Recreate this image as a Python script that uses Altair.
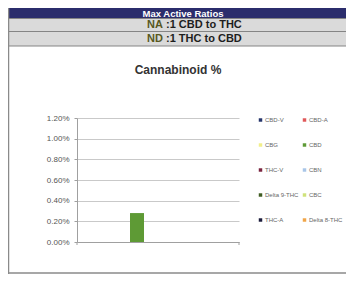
import altair as alt
import pandas as pd

# ---- data ----
series = ["CBD-V", "CBD-A", "CBG", "CBD", "THC-V", "CBN",
          "Delta 9-THC", "CBC", "THC-A", "Delta 8-THC"]
values = [0, 0, 0, 0.0028, 0, 0, 0, 0, 0, 0]
colors = ["#26356b", "#e0585a", "#f2ef8a", "#5e9a35", "#7a2440",
          "#a9c6e8", "#3f5c22", "#cfe27a", "#1c1c3c", "#f0a548"]
y_ticks = [0, 0.002, 0.004, 0.006, 0.008, 0.010, 0.012]
header_title = ["Max Active Ratios"]
ratio_codes = ["NA", "ND"]
ratio_texts = [":1 CBD to THC", ":1 THC to CBD"]
chart_title = ["Cannabinoid %"]

FONT = "Liberation Sans"
df = pd.DataFrame({"series": series, "value": values})

bars = alt.Chart(df).mark_bar().encode(
    x=alt.X("series:N", sort=series,
            scale=alt.Scale(paddingInner=0, paddingOuter=0.79),
            axis=alt.Axis(labels=False, ticks=False, title=None,
                          domainColor="#a0a0a0", grid=False)),
    y=alt.Y("value:Q", scale=alt.Scale(domain=[0, 0.012]),
            axis=alt.Axis(values=y_ticks, format=".2%", title=None,
                          grid=True, gridColor="#c9c9c9", domainColor="#a0a0a0",
                          tickColor="#a0a0a0", tickSize=3, labelPadding=5,
                          labelFontSize=8, labelColor="#555555", labelFont=FONT)),
    color=alt.Color("series:N", sort=series,
                    scale=alt.Scale(domain=series, range=colors),
                    legend=alt.Legend(title=None, orient="none", legendX=180.5, legendY=-1,
                                      direction="horizontal",
                                      columns=2, columnPadding=3, rowPadding=19,
                                      symbolType="square", symbolSize=12,
                                      symbolStrokeWidth=0, labelFontSize=6,
                                      labelColor="#666666", labelOffset=1.5,
                                      labelFont=FONT, padding=0)),
)

one = pd.DataFrame({"k": [0]})

def rect(x1, x2, y1, y2, fill, stroke=None):
    kw = {"fill": fill}
    if stroke:
        kw.update(stroke=stroke, strokeWidth=1)
    return alt.Chart(one).mark_rect(**kw).encode(
        x=alt.value(x1), x2=alt.value(x2), y=alt.value(y1), y2=alt.value(y2))

def rule(x1, x2, y1, y2, color, w=1):
    return alt.Chart(one).mark_rule(color=color, strokeWidth=w).encode(
        x=alt.value(x1), x2=alt.value(x2), y=alt.value(y1), y2=alt.value(y2))

# plot origin is at page (77, 118); canvas spans page x 8..346, y 8..274
navy = rect(-69, 272, -110, -99.5, "#2b2d6c")
row1 = rect(-69, 272, -99.5, -86.5, "#dadada", "#858585")
row2 = rect(-69, 272, -86.5, -72, "#dadada", "#858585")
left_border = rule(-68.5, -68.5, -110, 156, "#8a8a8a", 1.5)
bottom_border = rule(-69, 272, 155, 155, "#8a8a8a", 1.5)
end_tick_r = rule(162, 162, 124, 127, "#a0a0a0")
end_tick_l = rule(0, 0, 124, 127, "#a0a0a0")

t_header = alt.Chart(pd.DataFrame({"t": header_title})).mark_text(
    font=FONT, fontSize=9.5, fontWeight="bold", color="white",
    align="center", baseline="middle").encode(
    text="t:N", x=alt.value(106), y=alt.value(-104.2))

codes_df = pd.DataFrame({"t": ratio_codes, "yy": [-92.8, -79]})
texts_df = pd.DataFrame({"t": ratio_texts, "yy": [-92.8, -79]})

t_codes = alt.Chart(codes_df).mark_text(
    font=FONT, fontSize=11, fontWeight="bold", color="#58581e",
    align="left", baseline="middle").encode(
    text="t:N", x=alt.value(70),
    y=alt.Y("yy:Q", scale=None))

t_texts = alt.Chart(texts_df).mark_text(
    font=FONT, fontSize=11, fontWeight="bold", color="#1e1e1e",
    align="left", baseline="middle").encode(
    text="t:N", x=alt.value(89),
    y=alt.Y("yy:Q", scale=None))

t_title = alt.Chart(pd.DataFrame({"t": chart_title})).mark_text(
    font=FONT, fontSize=12, fontWeight="bold", color="#333333",
    align="center", baseline="middle").encode(
    text="t:N", x=alt.value(101), y=alt.value(-48))

chart = alt.layer(
    navy, row1, row2, left_border, bottom_border,
    t_header, t_codes, t_texts, t_title,
    bars, end_tick_l, end_tick_r,
).properties(
    width=162, height=124,
    padding={"left": 69, "top": 110, "right": 107, "bottom": 32},
    autosize="none", background="white",
).configure_view(strokeWidth=0)

chart.save("out.html", embed_options={"renderer": "svg", "actions": False})
